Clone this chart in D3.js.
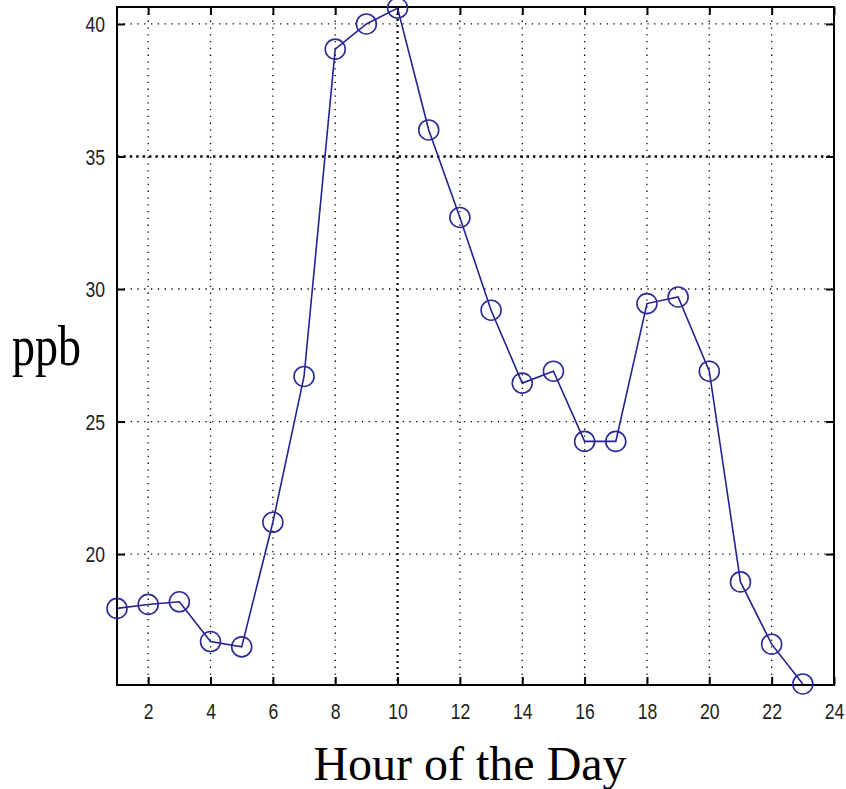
<!DOCTYPE html>
<html><head><meta charset="utf-8">
<script src="https://cdn.jsdelivr.net/npm/d3@7"></script>
<style>body{margin:0;background:#fff}svg{display:block}</style>
</head><body><svg id="c" width="846" height="789"></svg>
<script>
const hours = [1,2,3,4,5,6,7,8,9,10,11,12,13,14,15,16,17,18,19,20,21,22,23];
const ppb = [17.95,18.1,18.2,16.7,16.5,21.2,26.7,39.05,40.0,40.6,36.0,32.7,29.2,26.45,26.9,24.25,24.25,29.45,29.7,26.9,18.95,16.6,15.1];
const xTicks = [2,4,6,8,10,12,14,16,18,20,22,24];
const yTicks = [20,25,30,35,40];
const xLabel = "Hour of the Day";
const yLabel = "ppb";

const L = 117, R = 834, T = 7, B = 685;
const x = d3.scaleLinear().domain([1,24]).range([L,R]);
const y = d3.scaleLinear().domain([15.06,40.64]).range([B,T]);
const svg = d3.select("#c");

// grid
const g = svg.append("g");
g.selectAll("line.gx").data(xTicks.filter(t=>t<24)).join("line")
  .attr("x1",d=>x(d)).attr("x2",d=>x(d)).attr("y1",T).attr("y2",B)
  .attr("stroke","#000").attr("stroke-width",d=>d===10?2.2:1.3)
  .attr("stroke-dasharray",d=>d===10?"2,4":"1.3,5.5");
g.selectAll("line.gy").data(yTicks).join("line")
  .attr("y1",d=>y(d)).attr("y2",d=>y(d)).attr("x1",L).attr("x2",R)
  .attr("stroke","#000").attr("stroke-width",d=>d===35?2.4:1.3)
  .attr("stroke-dasharray",d=>d===35?"2.4,4":"1.3,5.5");

// axes with inward ticks
const font = "'Liberation Sans',Arial,sans-serif";
const sx = 0.8;
function styleAxis(sel){
  sel.select(".domain").remove();
  sel.selectAll(".tick line").attr("stroke","#000").attr("stroke-width",2);
  sel.selectAll(".tick text").attr("font-family",font).attr("font-size",22).attr("fill","#222");
}
svg.append("g").attr("transform",`translate(0,${B})`)
  .call(d3.axisBottom(x).tickValues(xTicks).tickSizeInner(-8).tickSizeOuter(0))
  .call(styleAxis)
  .call(s=>s.selectAll(".tick text").attr("y",34).attr("dy",0).attr("transform",`scale(${sx},1)`));
svg.append("g").attr("transform",`translate(0,${T})`)
  .call(d3.axisTop(x).tickValues(xTicks).tickSizeInner(-8).tickSizeOuter(0).tickFormat(""))
  .call(styleAxis);
svg.append("g").attr("transform",`translate(${L},0)`)
  .call(d3.axisLeft(y).tickValues(yTicks).tickSizeInner(-8).tickSizeOuter(0))
  .call(styleAxis)
  .call(s=>s.selectAll(".tick text").attr("x",-12/sx).attr("dy","0.36em").attr("transform",`scale(${sx},1)`));
svg.append("g").attr("transform",`translate(${R},0)`)
  .call(d3.axisRight(y).tickValues(yTicks).tickSizeInner(-8).tickSizeOuter(0).tickFormat(""))
  .call(styleAxis);

// frame
svg.append("rect").attr("x",L).attr("y",T).attr("width",R-L).attr("height",B-T)
  .attr("fill","none").attr("stroke","#000").attr("stroke-width",2);

// data line
const data = hours.map((h,i)=>({h, v:ppb[i]}));
svg.append("path").datum(data)
  .attr("d",d3.line().x(d=>x(d.h)).y(d=>y(d.v)))
  .attr("fill","none").attr("stroke","#23238f").attr("stroke-width",1.6);
svg.selectAll("circle.m").data(data).join("circle")
  .attr("cx",d=>x(d.h)).attr("cy",d=>y(d.v)).attr("r",10)
  .attr("fill","none").attr("stroke","#2b2b95").attr("stroke-width",1.6);

// labels
svg.append("text").attr("x",470).attr("y",780).attr("text-anchor","middle")
  .attr("font-family","'Liberation Serif','Times New Roman',serif").attr("font-size",48).attr("fill","#000")
  .text(xLabel);
svg.append("text").attr("transform","translate(12,365) scale(1,1.25)")
  .attr("font-family","'Liberation Serif','Times New Roman',serif").attr("font-size",46).attr("fill","#000")
  .text(yLabel);
</script>
</body></html>
